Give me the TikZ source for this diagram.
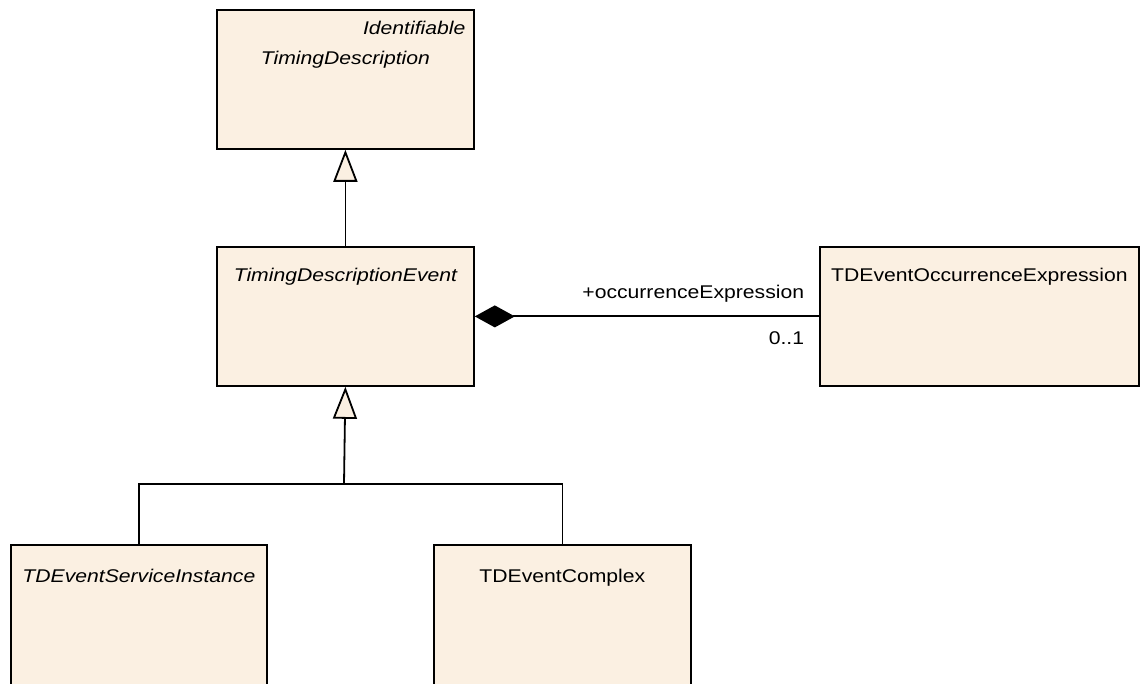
\documentclass[tikz,border=0pt]{standalone}
\usepackage{fontspec}
\setmainfont{Liberation Sans}[FakeStretch=1.15]
\usetikzlibrary{arrows.meta,calc,positioning}
\definecolor{classfill}{RGB}{251,240,226}

\begin{document}
\begin{tikzpicture}[x=0.5pt, y=-0.5pt,
        classbox/.style={draw=black, line width=0.9pt, fill=classfill, anchor=north west,
            inner sep=0pt, minimum width=#1, minimum height=69.5pt},
        classname/.style={anchor=base, inner sep=0pt, font=\fontsize{9.2}{11}\selectfont},
        assoc/.style={draw=black, line width=0.9pt},
        inherit/.style={assoc, -{Triangle[length=16pt, width=12pt, fill=classfill]}}]
        \useasboundingbox (0,0) rectangle (1147,684);
        \clip (0,0) rectangle (1147,684);
        \node[classbox=128.5pt] (timingDesc) at (216,9) {};
        \node[classbox=128.5pt] (tdEvent) at (216,246) {};
        \node[classbox=159.5pt] (occExpr) at (819,246) {};
        \node[classbox=128pt, minimum height=80pt] (serviceInst) at (10,544) {};
        \node[classbox=128.5pt, minimum height=80pt] (complexEv) at (433,544) {};
        \node[classname, anchor=base east] (identLabel) at ($(timingDesc.north east)+(-9,25.5)$) {\itshape Identifiable};
        \node[classname] (timingDescName) at ($(timingDesc.north)+(0,55.5)$) {\itshape TimingDescription};
        \node[classname] (tdEventName) at ($(tdEvent.north)+(0,35.5)$) {\itshape TimingDescriptionEvent};
        \node[classname] (occExprName) at ($(occExpr.north)+(0,35.5)$) {TDEventOccurrenceExpression};
        \node[classname] (serviceInstName) at ($(serviceInst.north)+(0,38)$) {\itshape TDEventServiceInstance};
        \node[classname] (complexEvName) at ($(complexEv.north)+(0,38)$) {TDEventComplex};
        \draw[inherit] (tdEvent.north) -- (timingDesc.south);
        \coordinate (joint) at (344,484);
        \draw[inherit] (joint) -- (tdEvent.south);
        \draw[assoc] (serviceInst.north) |- (joint) -| (complexEv.north);
        \draw[assoc, {Diamond[length=20pt, width=11pt]}-] (tdEvent.east) -- (occExpr.west)
            node[classname, anchor=base east, pos=1, xshift=-7pt, yshift=9pt] (roleLabel) {+occurrenceExpression}
            node[classname, anchor=base east, pos=1, xshift=-7pt, yshift=-14pt] (multLabel) {0..1};
    \end{tikzpicture}
\end{document}
